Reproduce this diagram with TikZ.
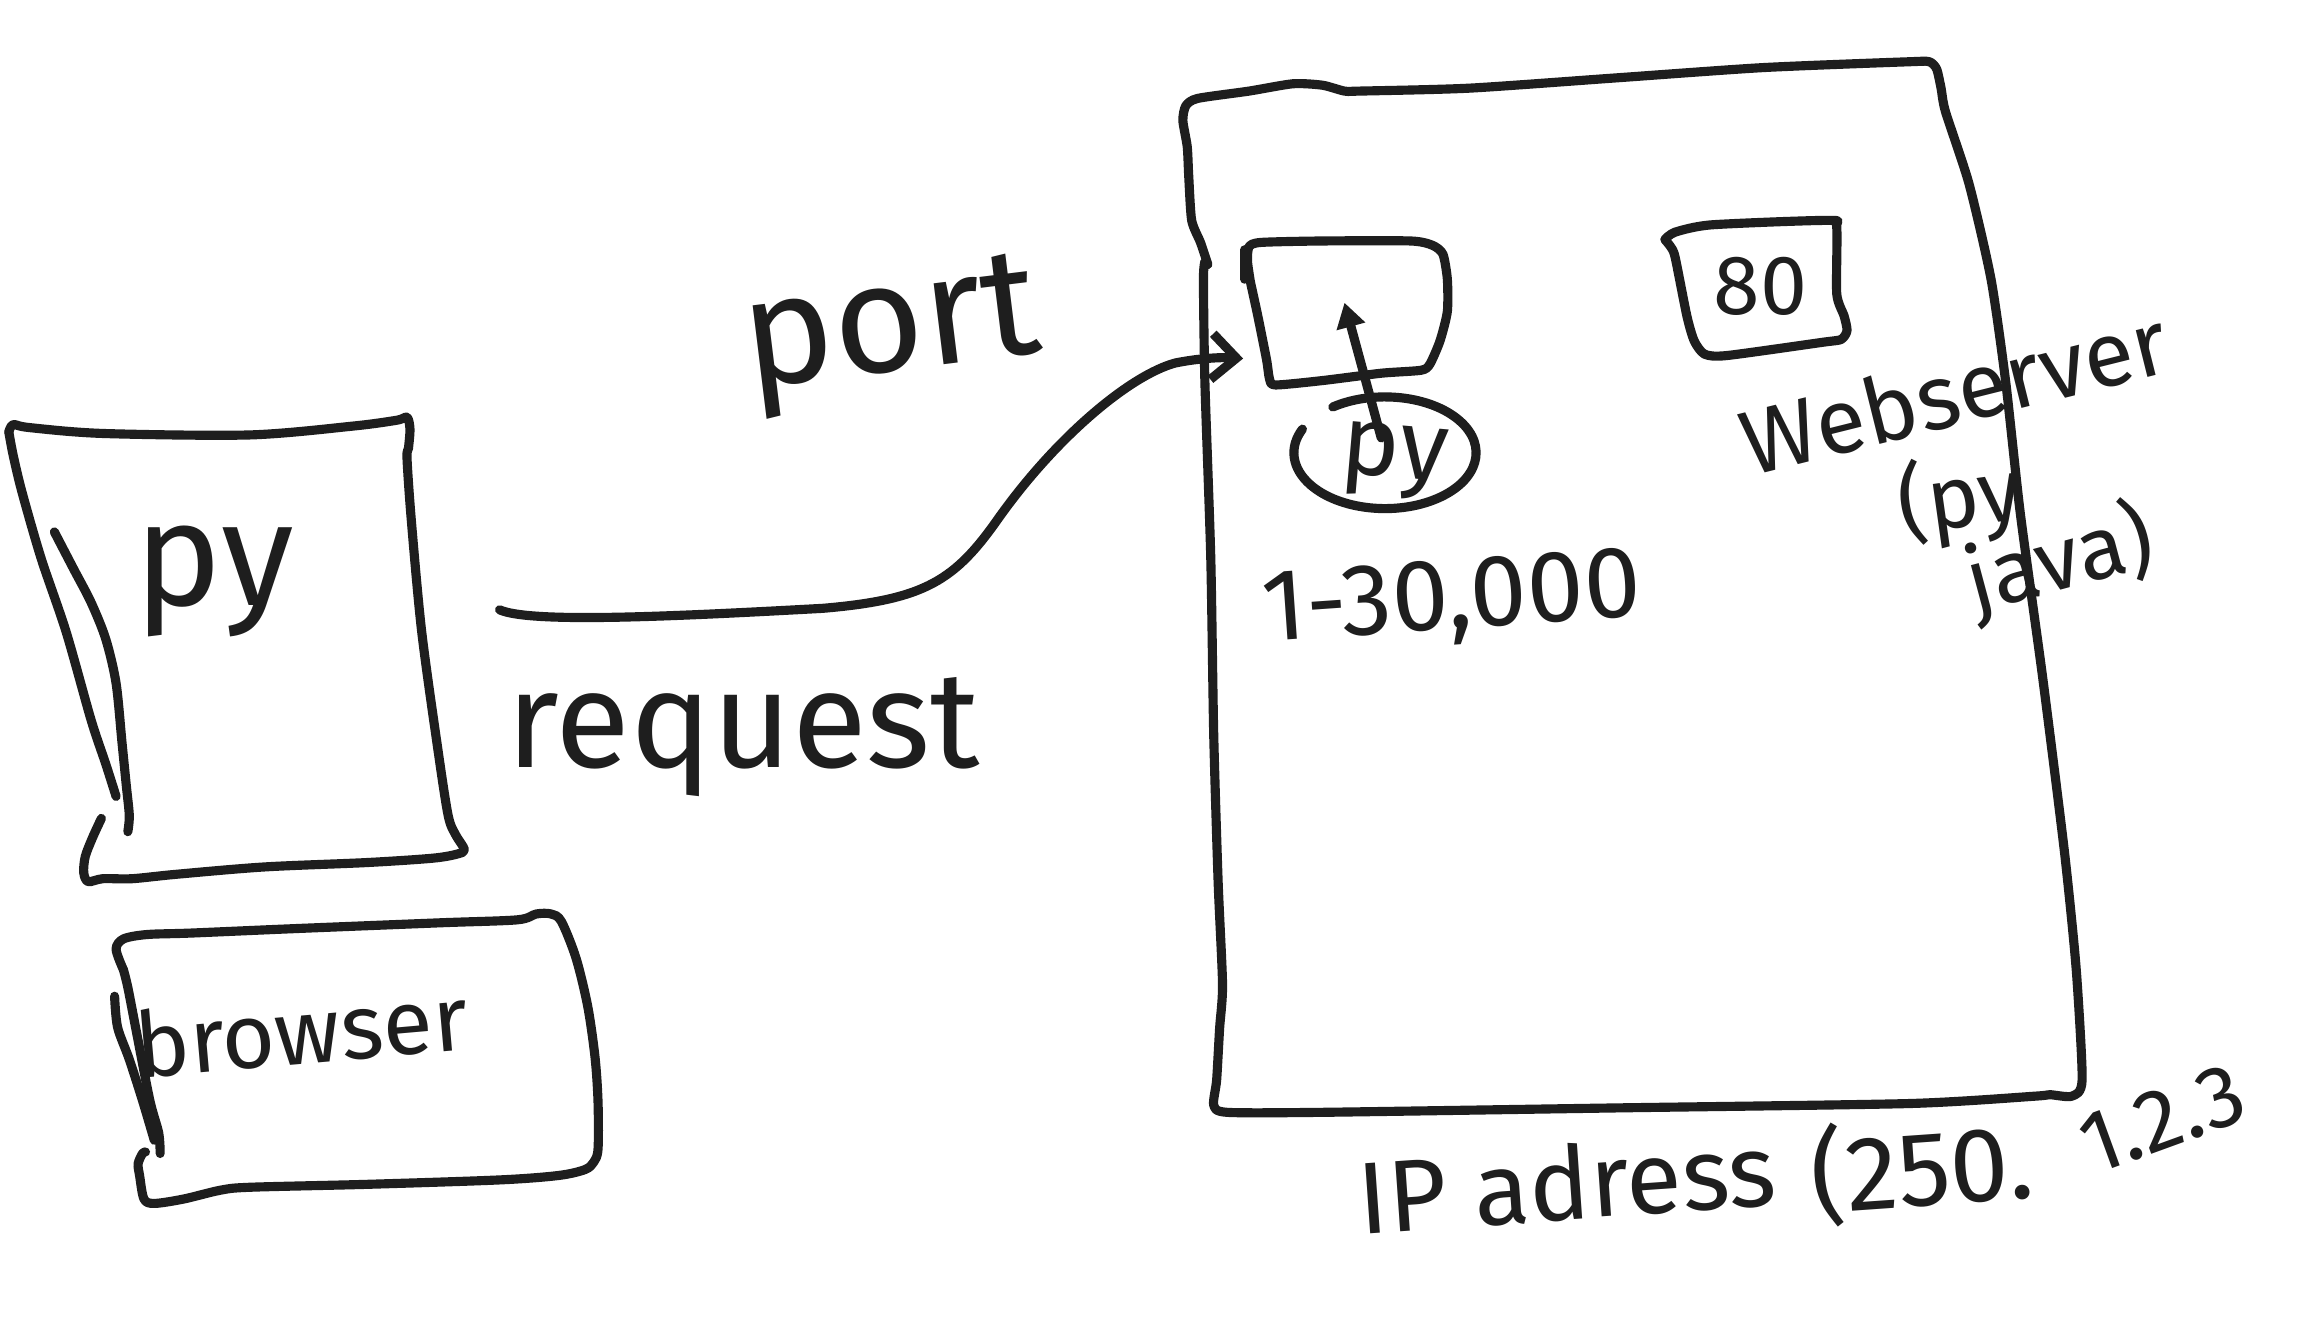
\documentclass[tikz,border=0pt]{standalone}
\usepackage{fontspec}
\setmainfont{Fira Sans}
\usetikzlibrary{arrows.meta}
\definecolor{ink}{HTML}{1E1E1E}
\newcommand{\fs}[1]{\fontsize{#1}{#1}\selectfont}
\begin{document}
\begin{tikzpicture}[x=0.0147cm, y=-0.0147cm,
  sk/.style={draw=ink, line width=2.6pt, line cap=round, line join=round},
  lbl/.style={text=ink, inner sep=0pt}]
\useasboundingbox[fill=white] (0,0) rectangle (1568,904);

% ---- py box (left) ----
\draw[sk] plot[smooth, tension=0.5] coordinates {(6,294) (9,289) (20,291) (70,295) (170,296) (240,290) (270,286) (277,284) (279,292) (278,305) (277,312) (280,355) (287,430) (298,510) (305,555) (310,568) (316,578) (312,581) (295,584) (250,587) (180,590) (120,595) (90,598) (70,598) (60,600) (57,594) (58,583) (63,570) (69,557)};
\draw[sk] plot[smooth, tension=0.5] coordinates {(6,294) (9,310) (15,335) (28,380) (45,430) (62,490) (72,520) (79,542)};
\draw[sk] plot[smooth, tension=0.5] coordinates {(37,362) (50,387) (62,410) (72,435) (79,465) (83,505) (86,535) (88,555) (87,566)};
\node[lbl, anchor=base, font=\fs{42}] (pylbl) at (146,412) {py};

% ---- browser box ----
\draw[sk] plot[smooth, tension=0.5] coordinates {(84,660) (79,646) (84,639) (100,636) (130,635) (200,632) (300,628) (352,626) (365,622) (375,622) (382,627) (392,652) (400,685) (405,720) (407,750) (407,782) (404,791) (398,796) (380,800) (340,803) (250,806) (170,808) (150,810) (125,816) (105,819) (98,816) (95,800) (94,792) (97,785) (99,784)};
\draw[sk] plot[smooth, tension=0.5] coordinates {(84,660) (87,672) (93,703) (102,749) (108,771) (109,785)};
\draw[sk] plot[smooth, tension=0.5] coordinates {(78,678) (80,699) (88,721) (97,749) (105,776)};
\node[lbl, anchor=base, rotate=5, font=\fs{26}] (browserlbl) at (207,724) {browser};

% ---- server box ----
\draw[sk] plot[smooth, tension=0.4] coordinates {(822,180) (817,165) (811,150) (809,120) (808,100) (805,82) (807,72) (815,67) (850,62) (880,57) (900,58) (915,62) (925,62) (1000,60) (1100,53) (1200,46) (1300,42) (1313,42) (1318,47) (1321,60) (1324,76) (1340,125) (1355,190) (1365,260) (1375,350) (1390,460) (1405,580) (1413,660) (1417,735) (1410,746) (1395,745) (1385,746) (1300,751) (1100,754) (900,757) (835,757) (826,752) (828,735) (830,700) (832,670) (829,600) (826,500) (824,380) (820,260) (819,190) (820,178)};

% ---- port box ----
\draw[sk] plot[smooth, tension=0.4] coordinates {(851,192) (849,178) (850,168) (858,165) (900,164) (960,164) (975,167) (982,173) (985,190) (985,212) (980,232) (973,248) (967,252) (940,254) (900,259) (868,262) (864,258) (862,245) (856,215) (851,192)};
\draw[sk] (847,170) -- (847,190);

% ---- py process in ellipse ----
\draw[sk] (907,277) arc[start angle=235, end angle=565, x radius=62, y radius=38];
\node[lbl, anchor=base, rotate=-5, font=\fs{28}] (pyproc) at (948,325) {py};
\coordinate (proctail) at (940,298);
\coordinate (porttop) at (915,206);
\draw[sk, -{Triangle[length=7pt, width=8pt]}] (proctail) -- (porttop);

\node[lbl, rotate=4, font=\fs{29}] (range) at (988,410) {1-30,000};

% ---- webserver box ----
\draw[sk] plot[smooth, tension=0.4] coordinates {(1133,163) (1140,158) (1165,153) (1245,150) (1250,155) (1250,200) (1255,215) (1257,225) (1253,231) (1240,233) (1175,242) (1160,241) (1153,232) (1148,215) (1140,175) (1137,168) (1133,163)};
\node[lbl, font=\fs{24}] (eighty) at (1198,195) {80};
\node[lbl, rotate=14, font=\fs{26}] (websrv) at (1330,266) {Webserver};
\node[lbl, rotate=8, font=\fs{25}] (pyjava1) at (1334,340) {(py};
\node[lbl, rotate=15, font=\fs{25}] (pyjava2) at (1402,382) {java)};

% ---- ip address ----
\node[lbl, anchor=base, rotate=4, font=\fs{29}] (ipa) at (1068,830) {IP adress};
\node[lbl, anchor=base west, rotate=4, font=\fs{30}] (ipb) at (1234,826) {(250.};
\node[lbl, anchor=base west, rotate=20, font=\fs{25}] (ipc) at (1424,800) {1.2.3};

% ---- labels and connector ----
\node[lbl, anchor=base, rotate=7, font=\fs{44}] (portlbl) at (610,252) {port};
\node[lbl, anchor=base, font=\fs{39}] (reqlbl) at (506,522) {request};
\coordinate (reqstart) at (340,415);
\coordinate (portin) at (846,244);
\draw[sk, -{Straight Barb[length=7pt, width=13pt]}] (reqstart) .. controls (360,424) and (450,420) .. (560,414)
  .. controls (630,408) and (650,395) .. (680,352)
  .. controls (720,296) and (770,255) .. (800,247)
  .. controls (815,244) and (830,243) .. (portin);
\end{tikzpicture}
\end{document}
